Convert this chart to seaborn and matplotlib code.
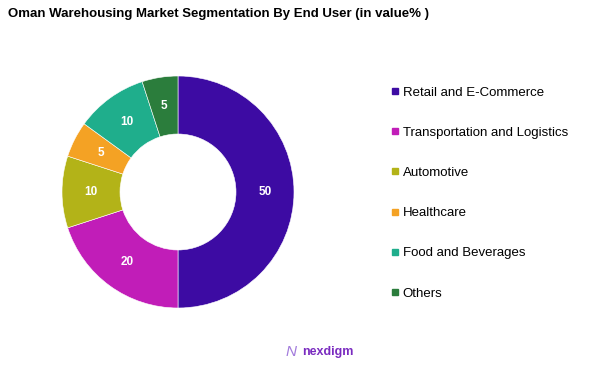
import matplotlib.pyplot as plt
import numpy as np
import seaborn as sns
from matplotlib.lines import Line2D

segments = ['Retail and E-Commerce', 'Transportation and Logistics', 'Automotive',
            'Healthcare', 'Food and Beverages', 'Others']
shares = [50, 20, 10, 5, 10, 5]
colors = ['#3d0ba3', '#c11db8', '#b3b318', '#f4a224', '#1fae8c', '#2b7d3c']

sns.set_style('white')
plt.rcParams['font.family'] = ['Liberation Sans', 'DejaVu Sans']
plt.rcParams['text.color'] = 'black'

fig = plt.figure(figsize=(6.02, 3.69), dpi=100)
ax = fig.add_axes([62 / 602, 1 - 308 / 369, 232 / 602, 232 / 369])

wedges, _ = ax.pie(shares, colors=colors, startangle=90, counterclock=False,
                   radius=1.0, wedgeprops=dict(width=0.5, edgecolor='white', linewidth=0.4))
ax.set_aspect('equal')
ax.set_xlim(-1, 1)
ax.set_ylim(-1, 1)

# value labels in the middle of the ring
for w, v in zip(wedges, shares):
    ang = np.deg2rad((w.theta1 + w.theta2) / 2)
    ax.text(0.75 * np.cos(ang), 0.75 * np.sin(ang), str(v), ha='center', va='center',
            color='white', fontsize=8.5, fontweight='bold')

fig.text(8 / 602, 1 - 14 / 369, 'Oman Warehousing Market Segmentation By End User (in value% )',
         fontsize=9.5, fontweight='bold', ha='left', va='center')

handles = [Line2D([], [], marker='s', linestyle='', markersize=5, color=c) for c in colors]
fig.legend(handles, segments, loc='upper left', bbox_to_anchor=(383 / 602, 1 - 81 / 369),
           frameon=False, fontsize=9.5, labelspacing=2.12, handletextpad=0.1,
           handlelength=1.0, borderaxespad=0, labelcolor='black')

fig.text(302 / 602, 1 - 352 / 369, 'nexdigm', color='#7a2bc0', fontsize=9,
         fontweight='bold', ha='left', va='center')
fig.text(291 / 602, 1 - 352 / 369, 'N', color='#a27bdc', fontsize=11, ha='center',
         va='center', fontstyle='italic')

fig.savefig('out.png', dpi=100)
